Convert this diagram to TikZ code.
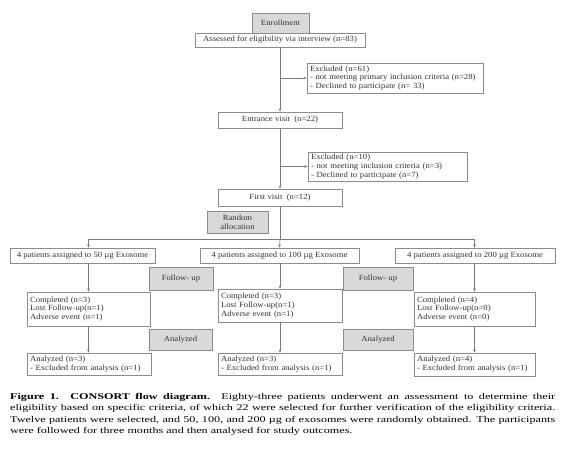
\documentclass[tikz,border=0pt]{standalone}
\usepackage{fontspec}
\setmainfont{Liberation Serif}
\newfontfamily\capfont{Liberation Serif}[FakeStretch=1.38]
\newfontfamily\boxfont{Liberation Serif}[FakeStretch=1.1]
\usetikzlibrary{arrows.meta}
\definecolor{boxline}{HTML}{8C8C8C}
\definecolor{greyfill}{HTML}{D9D9D9}
\definecolor{lineclr}{HTML}{7A7A7A}
\definecolor{txt}{HTML}{333333}
\tikzset{
  wbox/.style={draw=boxline, fill=white, line width=0.6pt, inner sep=0pt, text=txt,
    font=\boxfont\fontsize{7.9}{8.9}\selectfont, align=center},
  lbox/.style={wbox, align=left, inner xsep=3pt},
  gbox/.style={wbox, fill=greyfill, draw=boxline},
  conn/.style={draw=lineclr, line width=0.6pt},
  arr/.style={conn, -{Stealth[length=3.2pt,width=2.6pt]}}
}
\begin{document}
\begin{tikzpicture}[x=1pt,y=-1pt]
\useasboundingbox (0,0) rectangle (562,448);
% top column
\node[gbox, minimum width=57pt, minimum height=20pt] (enroll) at (280.5,23) {Enrollment};
\node[wbox, minimum width=170pt, minimum height=14pt] (assess) at (280,40) {Assessed for eligibility via interview (n=83)};
\node[lbox, text width=170pt, minimum height=30pt] (excl1) at (395,78) {Excluded (n=61)\\- not meeting primary inclusion criteria (n=28)\\- Declined to participate (n= 33)};
\node[wbox, minimum width=124pt, minimum height=16pt] (entr) at (280,120) {Entrance visit\ \ (n=22)};
\node[lbox, text width=153pt, minimum height=29pt] (excl2) at (387.5,166.5) {Excluded (n=10)\\- not meeting inclusion criteria (n=3)\\- Declined to participate (n=7)};
\node[wbox, minimum width=124pt, minimum height=17pt] (first) at (280,197.5) {First visit\ \ (n=12)};
\node[gbox, minimum width=61pt, minimum height=22pt] (rand) at (237.5,222) {Random\\allocation};
\coordinate (split) at (280,239);
% assigned
\node[wbox, minimum width=145pt, minimum height=15pt] (a1) at (82.5,255.5) {4 patients assigned to 50 µg Exosome};
\node[wbox, minimum width=159pt, minimum height=15pt] (a2) at (279.5,255.5) {4 patients assigned to 100 µg Exosome};
\node[wbox, minimum width=160pt, minimum height=15pt] (a3) at (475,255.5) {4 patients assigned to 200 µg Exosome};
% follow-up
\node[gbox, minimum width=64pt, minimum height=23pt] (f1) at (181,278.5) {Follow- up};
\node[gbox, minimum width=70pt, minimum height=23pt] (f2) at (378,278.5) {Follow- up};
\node[lbox, text width=117pt, minimum height=34pt] (c1) at (88.5,309) {Completed (n=3)\\Lost Follow-up(n=1)\\Adverse event (n=1)};
\node[lbox, text width=118pt, minimum height=33pt] (c2) at (280,305.5) {Completed (n=3)\\Lost Follow-up(n=1)\\Adverse event (n=1)};
\node[lbox, text width=115pt, minimum height=34pt] (c3) at (474.5,309) {Completed (n=4)\\Lost Follow-up(n=0)\\Adverse event (n=0)};
% analyzed
\node[gbox, minimum width=63pt, minimum height=21pt] (n1) at (180.5,339.5) {Analyzed};
\node[gbox, minimum width=70pt, minimum height=21pt] (n2) at (378,339.5) {Analyzed};
\node[lbox, text width=118pt, minimum height=22pt] (r1) at (89,364) {Analyzed (n=3)\\- Excluded from analysis (n=1)};
\node[lbox, text width=118pt, minimum height=22pt] (r2) at (280,364) {Analyzed (n=3)\\- Excluded from analysis (n=1)};
\node[lbox, text width=115pt, minimum height=23pt] (r3) at (474.5,364.5) {Analyzed (n=4)\\- Excluded from analysis (n=1)};
% connectors
\draw[arr] (assess.south) -- (entr.north);
\draw[arr] (excl1.west -| assess.south) -- (excl1.west);
\draw[arr] (entr.south) -- (first.north);
\draw[arr] (excl2.west -| entr.south) -- (excl2.west);
\draw[conn] (first.south) -- (split);
\draw[arr] (split) -| (c1 |- a1.north);
\draw[arr] (split) -- (a2.north);
\draw[arr] (split) -| (c3 |- a3.north);
\draw[arr] (c1 |- a1.south) -- (c1.north);
\draw[arr] (c2 |- a2.south) -- (c2.north);
\draw[arr] (c3 |- a3.south) -- (c3.north);
\draw[arr] (c1.south) -- (r1.north -| c1);
\draw[arr] (c2.south) -- (r2.north -| c2);
\draw[arr] (c3.south) -- (r3.north -| c3);
% caption
\node[anchor=north west, inner sep=0pt, text width=545pt, align=justify,
  font=\capfont\fontsize{8.8}{11.4}\selectfont] (cap) at (10,393)
  {\textbf{Figure 1. CONSORT flow diagram.} Eighty-three patients underwent an assessment to determine their\linebreak
  eligibility based on specific criteria, of which 22 were selected for further verification of the eligibility criteria.\linebreak
  Twelve patients were selected, and 50, 100, and 200 µg of exosomes were randomly obtained. The participants\linebreak
  were followed for three months and then analysed for study outcomes.};
\end{tikzpicture}
\end{document}
